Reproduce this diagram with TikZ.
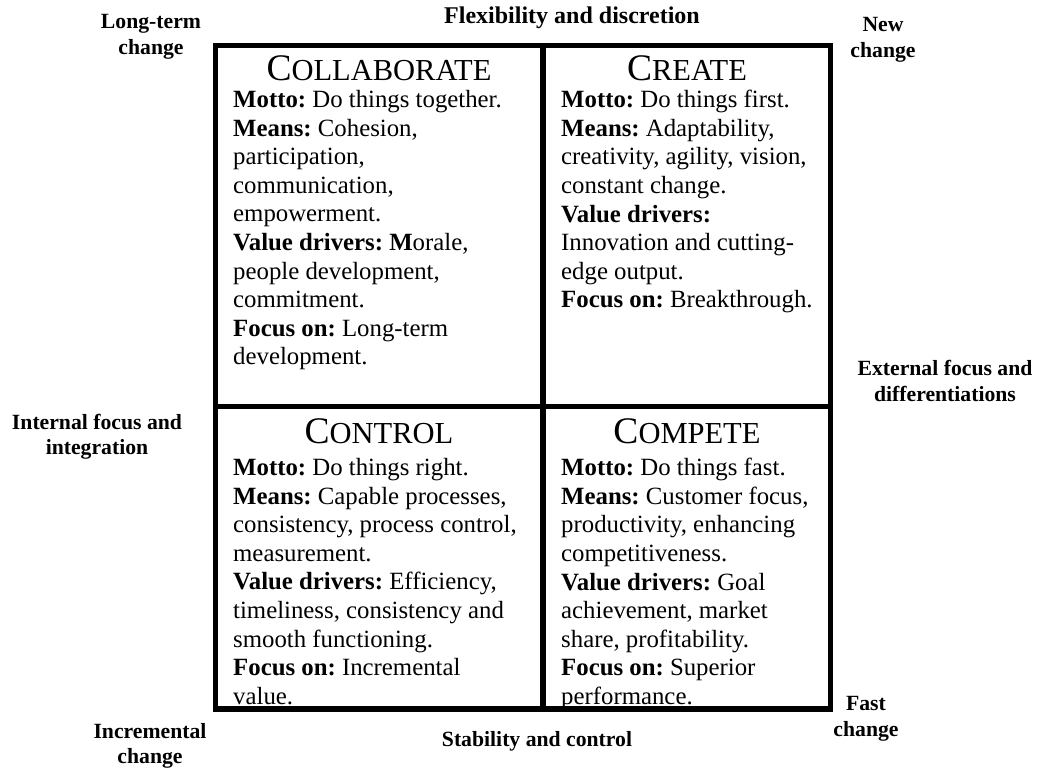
\documentclass[tikz,border=0pt]{standalone}
\usepackage{fontspec}
\setmainfont{Liberation Serif}
\frenchspacing
\begin{document}
\begin{tikzpicture}[x=1pt,y=-1pt,
  axislabel/.style={font=\fontsize{21.7}{25.5}\selectfont\bfseries, align=center, inner sep=0pt},
  celltext/.style={font=\fontsize{24.8}{28.6}\selectfont\frenchspacing, align=left, inner sep=0pt, anchor=north west},
  celltitle/.style={inner sep=0pt, anchor=base},
  gridline/.style={line width=5.5pt}
]
\newcommand{\qtitle}[2]{{\fontsize{37.5}{37.5}\selectfont #1}{\fontsize{30.5}{37.5}\selectfont #2}}
\useasboundingbox (0,0) rectangle (1037,770);
\fill[white] (0,0) rectangle (1037,770);

% grid
\coordinate (tl) at (215.5,45.5);
\coordinate (br) at (830.5,709);
\coordinate (mt) at (543,45.5);
\coordinate (mb) at (543,709);
\coordinate (ml) at (215.5,406.5);
\coordinate (mr) at (830.5,406.5);
\draw[gridline] (tl) rectangle (br);
\draw[gridline] (mt) -- (mb);
\draw[gridline] (ml) -- (mr);

% titles
\node[celltitle] (t1) at (379,81) {\qtitle{C}{OLLABORATE}};
\node[celltitle] (t2) at (687,81) {\qtitle{C}{REATE}};
\node[celltitle] (t3) at (379,443) {\qtitle{C}{ONTROL}};
\node[celltitle] (t4) at (687,443) {\qtitle{C}{OMPETE}};

% cell texts
\node[celltext] (c1) at (233,90) {%
\textbf{Motto:} Do things together.\\
\textbf{Means:} Cohesion,\\
participation,\\
communication,\\
empowerment.\\
\textbf{Value drivers: M}orale,\\
people development,\\
commitment.\\
\textbf{Focus on:} Long-term\\
development.};

\node[celltext] (c2) at (561,90) {%
\textbf{Motto:} Do things first.\\
\textbf{Means:} Adaptability,\\
creativity, agility, vision,\\
constant change.\\
\textbf{Value drivers:}\\
Innovation and cutting-\\
edge output.\\
\textbf{Focus on:} Breakthrough.};

\node[celltext] (c3) at (233,458) {%
\textbf{Motto:} Do things right.\\
\textbf{Means:} Capable processes,\\
consistency, process control,\\
measurement.\\
\textbf{Value drivers:} Efficiency,\\
timeliness, consistency and\\
smooth functioning.\\
\textbf{Focus on:} Incremental\\
value.};

\node[celltext] (c4) at (561,458) {%
\textbf{Motto:} Do things fast.\\
\textbf{Means:} Customer focus,\\
productivity, enhancing\\
competitiveness.\\
\textbf{Value drivers:} Goal\\
achievement, market\\
share, profitability.\\
\textbf{Focus on:} Superior\\
performance.};

% axis labels
\node[axislabel, font=\fontsize{24}{28}\selectfont\bfseries] (top) at (572,18) {Flexibility and discretion};
\node[axislabel] (bottom) at (537,741) {Stability and control};
\node[axislabel] (lt) at (151,37) {Long-term\\change};
\node[axislabel] (nc) at (883,40) {New\\change};
\node[axislabel] (ext) at (945,381) {External focus and\\differentiations};
\node[axislabel] (int) at (97,437) {Internal focus and\\integration};
\node[axislabel] (inc) at (150,746) {Incremental\\change};
\node[axislabel] (fc) at (866,719) {Fast\\change};
\end{tikzpicture}
\end{document}
